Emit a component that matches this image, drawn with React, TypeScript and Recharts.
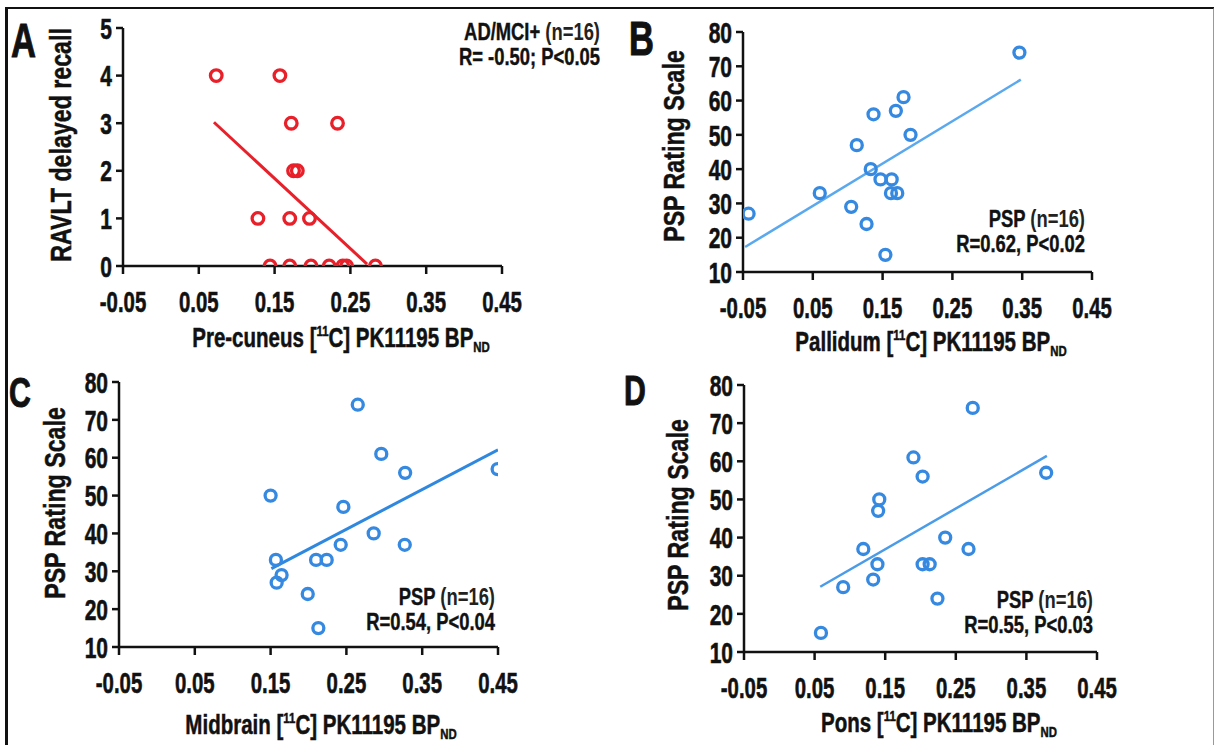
import React from "react";
import { ScatterChart, Scatter, XAxis, YAxis } from "recharts";

// shared ticks
const bpTicks = [-0.05, 0.05, 0.15, 0.25, 0.35, 0.45];
const recallTicks = [0, 1, 2, 3, 4, 5];
const pspTicks = [10, 20, 30, 40, 50, 60, 70, 80];

// A: pre-cuneus vs RAVLT delayed recall (AD/MCI+)
const precuneusBP = [0.073, 0.157, 0.172, 0.233, 0.175, 0.18, 0.128, 0.17, 0.196, 0.144, 0.17, 0.198, 0.222, 0.24, 0.245, 0.283];
const ravltRecall = [4, 4, 3, 3, 2, 2, 1, 1, 1, 0, 0, 0, 0, 0, 0, 0];
const fitAx = [0.07, 0.272];
const fitAy = [3.02, 0.04];

// B: pallidum vs PSP rating scale
const pallidumBP = [-0.042, 0.06, 0.105, 0.113, 0.127, 0.133, 0.137, 0.147, 0.154, 0.163, 0.162, 0.171, 0.169, 0.18, 0.19, 0.346];
const pspPallidum = [27, 33, 29, 47, 24, 40, 56, 37, 15, 37, 33, 33, 57, 61, 50, 74];
const fitBx = [-0.047, 0.348];
const fitBy = [17.3, 66.1];

// C: midbrain vs PSP rating scale
const midbrainBP = [0.15, 0.157, 0.1645, 0.158, 0.199, 0.213, 0.21, 0.224, 0.2425, 0.246, 0.265, 0.286, 0.296, 0.327, 0.3275, 0.4495];
const pspMidbrain = [50, 33, 29, 27, 24, 15, 33, 33, 37, 47, 74, 40, 61, 37, 56, 57];
const fitCx = [0.151, 0.45];
const fitCy = [30.7, 62.1];

// D: pons vs PSP rating scale
const ponsBP = [0.059, 0.0905, 0.119, 0.133, 0.139, 0.14, 0.1416, 0.19, 0.203, 0.203, 0.213, 0.224, 0.235, 0.268, 0.274, 0.378];
const pspPons = [15, 27, 37, 29, 33, 47, 50, 61, 56, 33, 33, 24, 40, 37, 74, 57];
const fitDx = [0.058, 0.379];
const fitDy = [27.1, 61.4];

const FONT = "'Liberation Sans', Arial, Helvetica, sans-serif";
const INK = "#111";
const RED = "#e8202a";
const BLUE = "#3589e0";

const zip = (xs: number[], ys: number[]) => xs.map((x, i) => ({ x, y: ys[i] }));

const XTick = (props: any) => {
  const { x, y, payload } = props;
  return (
    <g transform={`translate(${x},${y}) scale(0.68,1)`}>
      <text textAnchor="middle" dy="0.71em" fontFamily={FONT} fontSize={30} fontWeight={700}
        fill={INK} stroke={INK} strokeWidth={0.6}>
        {Number(payload.value).toFixed(2)}
      </text>
    </g>
  );
};

const YTick = (props: any) => {
  const { x, y, payload } = props;
  return (
    <g transform={`translate(${x},${y}) scale(0.7,1)`}>
      <text textAnchor="end" dy="0.355em" fontFamily={FONT} fontSize={30} fontWeight={700}
        fill={INK} stroke={INK} strokeWidth={0.6}>
        {payload.value}
      </text>
    </g>
  );
};

type PanelProps = {
  box: { l: number; r: number; t: number; b: number };
  points: { x: number; y: number }[];
  fit: { x: number; y: number }[];
  yDomain: [number, number];
  yTicks: number[];
  color: string;
  lineColor: string;
  lineWidth: number;
  dot: number;
};

const YW = 60;
const XH = 60;
const MT = 20;
const MR = 30;

const Panel = ({ box, points, fit, yDomain, yTicks, color, lineColor, lineWidth, dot }: PanelProps) => {
  const width = box.r - box.l + YW + MR;
  const height = box.b - box.t + MT + XH;
  const ring = (p: any) => (
    <circle cx={p.cx} cy={p.cy} r={dot} fill="none" stroke={color} strokeWidth={3.3} />
  );
  return (
    <div style={{ position: "absolute", left: box.l - YW, top: box.t - MT }}>
      <ScatterChart width={width} height={height} margin={{ top: MT, right: MR, bottom: 0, left: 0 }}>
        <XAxis
          type="number"
          dataKey="x"
          domain={[-0.05, 0.45]}
          ticks={bpTicks}
          interval={0}
          allowDataOverflow
          height={XH}
          tickSize={8}
          tickMargin={17}
          tick={<XTick />}
          axisLine={{ stroke: INK, strokeWidth: 2.5 }}
          tickLine={{ stroke: INK, strokeWidth: 2.5 }}
        />
        <YAxis
          type="number"
          dataKey="y"
          domain={yDomain}
          ticks={yTicks}
          interval={0}
          allowDataOverflow
          width={YW}
          tickSize={7}
          tickMargin={4}
          tick={<YTick />}
          axisLine={{ stroke: INK, strokeWidth: 2.5 }}
          tickLine={{ stroke: INK, strokeWidth: 2.5 }}
        />
        <Scatter
          data={fit}
          line={{ stroke: lineColor, strokeWidth: lineWidth }}
          shape={() => <g />}
          isAnimationActive={false}
        />
        <Scatter data={points} shape={ring} isAnimationActive={false} />
      </ScatterChart>
    </div>
  );
};

const SqText = ({ x, y, size, sx = 0.75, anchor = "start", weight = 700, rotate = 0, heavy = 0.5, children }: any) => (
  <g transform={`translate(${x},${y}) rotate(${rotate}) scale(${sx},1)`}>
    <text x={0} y={0} textAnchor={anchor} fontFamily={FONT} fontSize={size} fontWeight={weight}
      fill={INK} stroke={INK} strokeWidth={heavy}>
      {children}
    </text>
  </g>
);

const BpTitle = ({ region }: { region: string }) => (
  <>
    {region} [<tspan fontSize={15} dy={-11}>11</tspan>
    <tspan dy={11}>C] PK11195 BP</tspan>
    <tspan fontSize={15} dy={5}>ND</tspan>
  </>
);

const Note = ({ x, y, head, rest, stat }: any) => (
  <>
    <SqText x={x} y={y} size={23} sx={0.8} anchor="end" heavy={0.4}>
      {head}
      <tspan strokeWidth={0} fill="#222">{rest}</tspan>
    </SqText>
    <SqText x={x} y={y + 25} size={23} sx={0.8} anchor="end" heavy={0.4}>
      {stat}
    </SqText>
  </>
);

export default function App() {
  return (
    <div style={{ position: "absolute", left: 0, top: 0, width: 1214, height: 745, background: "#fff", overflow: "hidden" }}>
      <div style={{ position: "absolute", left: 5, top: 7, width: 1205, height: 760, borderTop: "2px solid #111", borderLeft: "3px solid #111", borderRight: "2px solid #999" }} />

      <Panel box={{ l: 123, r: 502, t: 28, b: 266 }} points={zip(precuneusBP, ravltRecall)} fit={zip(fitAx, fitAy)}
        yDomain={[0, 5]} yTicks={recallTicks} color={RED} lineColor={RED} lineWidth={3} dot={5.8} />
      <Panel box={{ l: 743, r: 1092, t: 32, b: 272 }} points={zip(pallidumBP, pspPallidum)} fit={zip(fitBx, fitBy)}
        yDomain={[10, 80]} yTicks={pspTicks} color={BLUE} lineColor="#5aa8ee" lineWidth={2.5} dot={5.5} />
      <Panel box={{ l: 119, r: 498, t: 382, b: 647 }} points={zip(midbrainBP, pspMidbrain)} fit={zip(fitCx, fitCy)}
        yDomain={[10, 80]} yTicks={pspTicks} color={BLUE} lineColor="#2f88e0" lineWidth={3} dot={5.5} />
      <Panel box={{ l: 744, r: 1097, t: 385, b: 652 }} points={zip(ponsBP, pspPons)} fit={zip(fitDx, fitDy)}
        yDomain={[10, 80]} yTicks={pspTicks} color={BLUE} lineColor="#4a9be8" lineWidth={2.5} dot={5.5} />

      <svg width={1214} height={745} style={{ position: "absolute", left: 0, top: 0, pointerEvents: "none" }}>
        <SqText x={11} y={57} size={48} sx={0.72} heavy={1}>A</SqText>
        <SqText x={629} y={55} size={48} sx={0.72} heavy={1}>B</SqText>
        <SqText x={9} y={407} size={42} sx={0.72} heavy={1}>C</SqText>
        <SqText x={624} y={405} size={42} sx={0.72} heavy={1}>D</SqText>

        <SqText x={71} y={145} size={29} sx={0.8} anchor="middle" rotate={-90}>RAVLT delayed recall</SqText>
        <SqText x={684} y={146} size={29} sx={0.8} anchor="middle" rotate={-90}>PSP Rating Scale</SqText>
        <SqText x={65} y={503} size={29} sx={0.8} anchor="middle" rotate={-90}>PSP Rating Scale</SqText>
        <SqText x={688} y={515} size={29} sx={0.8} anchor="middle" rotate={-90}>PSP Rating Scale</SqText>

        <SqText x={341} y={347} size={27} sx={0.76} anchor="middle"><BpTitle region="Pre-cuneus" /></SqText>
        <SqText x={931} y={351} size={27} sx={0.76} anchor="middle"><BpTitle region="Pallidum" /></SqText>
        <SqText x={321} y={734} size={27} sx={0.76} anchor="middle"><BpTitle region="Midbrain" /></SqText>
        <SqText x={939} y={732} size={27} sx={0.76} anchor="middle"><BpTitle region="Pons" /></SqText>

        <Note x={600} y={40} head="AD/MCI+ " rest="(n=16)" stat="R= -0.50; P<0.05" />
        <Note x={1085} y={227} head="PSP " rest="(n=16)" stat="R=0.62, P<0.02" />
        <Note x={495} y={605} head="PSP " rest="(n=16)" stat="R=0.54, P<0.04" />
        <Note x={1093} y={608} head="PSP " rest="(n=16)" stat="R=0.55, P<0.03" />
      </svg>
    </div>
  );
}
